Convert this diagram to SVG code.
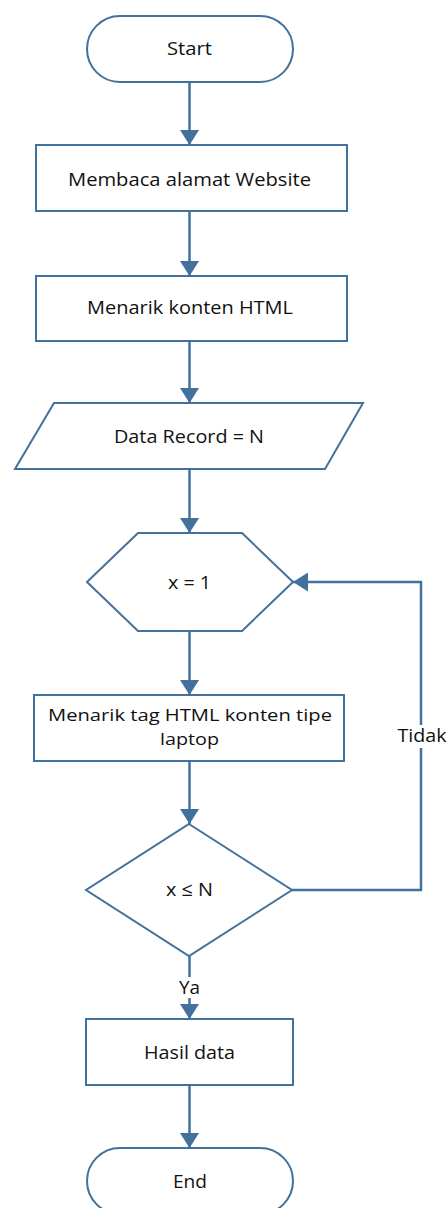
<svg xmlns="http://www.w3.org/2000/svg" width="448" height="1208" viewBox="0 0 448 1208">
  <style>
    .shape { fill: #ffffff; stroke: #41719c; stroke-width: 2; }
    .conn { fill: none; stroke: #41719c; stroke-width: 2.5; }
    .lbl { font-family: "Open Sans", "Liberation Sans", sans-serif; font-size: 19px; fill: #111111; text-anchor: middle; }
    .lbl.two { font-size: 17px; }
    .bg { fill: #ffffff; }
  </style>
  <defs>
    <marker id="arrow" viewBox="0 0 15 19" refX="15" refY="9.5" markerWidth="15" markerHeight="19" markerUnits="userSpaceOnUse" orient="auto">
      <path d="M0,0 L15,9.5 L0,19 Z" fill="#41719c"/>
    </marker>
  </defs>
  <rect width="448" height="1208" fill="#ffffff"/>

  <!-- connectors -->
  <g id="connectors">
    <line class="conn" x1="189.5" y1="82" x2="189.5" y2="145" marker-end="url(#arrow)"/>
    <line class="conn" x1="189.5" y1="211" x2="189.5" y2="276" marker-end="url(#arrow)"/>
    <line class="conn" x1="189.5" y1="341" x2="189.5" y2="403" marker-end="url(#arrow)"/>
    <line class="conn" x1="189.5" y1="469" x2="189.5" y2="533" marker-end="url(#arrow)"/>
    <line class="conn" x1="189.5" y1="631" x2="189.5" y2="695" marker-end="url(#arrow)"/>
    <line class="conn" x1="189.5" y1="761" x2="189.5" y2="824" marker-end="url(#arrow)"/>
    <line class="conn" x1="189.5" y1="956" x2="189.5" y2="1019" marker-end="url(#arrow)"/>
    <line class="conn" x1="189.5" y1="1085" x2="189.5" y2="1148" marker-end="url(#arrow)"/>
    <polyline class="conn" points="292,890 421,890 421,582 293,582" marker-end="url(#arrow)"/>
    <!-- branch labels -->
    <rect class="bg" x="396" y="725" width="52" height="23"/>
    <text class="lbl" x="422" y="742" textLength="49" lengthAdjust="spacingAndGlyphs">Tidak</text>
    <rect class="bg" x="177" y="977" width="25" height="21"/>
    <text class="lbl" x="189.5" y="994" textLength="21" lengthAdjust="spacingAndGlyphs">Ya</text>
  </g>

  <g id="start">
    <rect class="shape" x="87" y="16" width="206" height="66" rx="33" ry="33"/>
    <text class="lbl" x="189.5" y="55" textLength="45" lengthAdjust="spacingAndGlyphs">Start</text>
  </g>

  <g id="read-address">
    <rect class="shape" x="36" y="145" width="311" height="66"/>
    <text class="lbl" x="189.5" y="186" textLength="243" lengthAdjust="spacingAndGlyphs">Membaca alamat Website</text>
  </g>

  <g id="fetch-html">
    <rect class="shape" x="36" y="276" width="311" height="65"/>
    <text class="lbl" x="190" y="314" textLength="206" lengthAdjust="spacingAndGlyphs">Menarik konten HTML</text>
  </g>

  <g id="data-record">
    <polygon class="shape" points="54,403 363,403 325,469 15,469"/>
    <text class="lbl" x="189" y="443" textLength="150" lengthAdjust="spacingAndGlyphs">Data Record = N</text>
  </g>

  <g id="init-x">
    <polygon class="shape" points="138,533 242,533 293,582 242,631 138,631 87,582"/>
    <text class="lbl" x="189.5" y="589" textLength="43" lengthAdjust="spacingAndGlyphs">x = 1</text>
  </g>

  <g id="fetch-tags">
    <rect class="shape" x="34" y="695" width="310" height="66"/>
    <text class="lbl two" x="190" y="721" textLength="284" lengthAdjust="spacingAndGlyphs">Menarik tag HTML konten tipe</text>
    <text class="lbl two" x="189.5" y="745" textLength="59" lengthAdjust="spacingAndGlyphs">laptop</text>
  </g>

  <g id="check-x">
    <polygon class="shape" points="189,824 292,890 189,956 86,890"/>
    <text class="lbl" x="189.5" y="896" textLength="47" lengthAdjust="spacingAndGlyphs">x ≤ N</text>
  </g>

  <g id="result">
    <rect class="shape" x="86" y="1019" width="207" height="66"/>
    <text class="lbl" x="189.5" y="1059" textLength="91" lengthAdjust="spacingAndGlyphs">Hasil data</text>
  </g>

  <g id="end">
    <rect class="shape" x="87" y="1148" width="206" height="66" rx="33" ry="33"/>
    <text class="lbl" x="190" y="1188" textLength="34" lengthAdjust="spacingAndGlyphs">End</text>
  </g>
</svg>
